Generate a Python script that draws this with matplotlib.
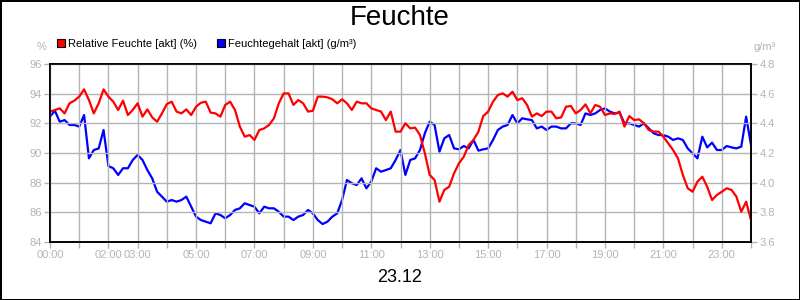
import numpy as np
import matplotlib
matplotlib.use("Agg")
import matplotlib.pyplot as plt
from matplotlib.patches import Patch

plt.rcParams['font.family'] = ['Liberation Sans', 'DejaVu Sans']

title = "Feuchte"
date_label = "23.12"
series_names = ["Relative Feuchte [akt] (%)", "Feuchtegehalt [akt] (g/m³)"]
left_unit = "%"
right_unit = "g/m³"

# 10-minute samples from 00:00 to 24:00
rel_feuchte = [
    92.79, 92.90, 93.01, 92.67, 93.35, 93.53,
    93.80, 94.29, 93.57, 92.67, 93.35, 94.29,
    93.80, 93.46, 92.90, 93.53, 92.56, 92.90,
    93.35, 92.45, 92.94, 92.40, 92.11, 92.67,
    93.30, 93.46, 92.79, 92.67, 92.94, 92.56,
    93.12, 93.39, 93.46, 92.72, 92.67, 92.45,
    93.24, 93.46, 92.90, 91.78, 91.10, 91.21,
    90.88, 91.55, 91.66, 91.89, 92.34, 93.35,
    94.02, 94.02, 93.24, 93.57, 93.35, 92.79,
    92.85, 93.80, 93.80, 93.75, 93.62, 93.35,
    93.62, 93.35, 92.90, 93.46, 93.35, 93.35,
    93.01, 92.90, 92.79, 92.22, 92.79, 91.44,
    91.44, 92.00, 91.66, 91.71, 91.21, 89.98,
    88.52, 88.18, 86.72, 87.51, 87.73, 88.63,
    89.30, 89.75, 90.54, 90.88, 91.44, 92.49,
    92.79, 93.46, 93.91, 94.02, 93.80, 94.13,
    93.57, 93.69, 93.24, 92.45, 92.67, 92.49,
    92.79, 92.79, 92.34, 92.40, 93.12, 93.17,
    92.67, 92.90, 93.28, 92.67, 93.24, 93.12,
    92.56, 92.67, 92.63, 92.79, 91.78, 92.49,
    92.22, 92.27, 92.00, 91.55, 91.44, 91.44,
    91.10, 90.65, 90.20, 89.64, 88.52, 87.62,
    87.39, 88.07, 88.40, 87.73, 86.83, 87.17,
    87.39, 87.62, 87.51, 87.06, 86.04, 86.72,
    85.48,
]

feuchtegehalt = [
    4.445, 4.485, 4.411, 4.422, 4.389, 4.389,
    4.378, 4.456, 4.164, 4.220, 4.231, 4.355,
    4.112, 4.097, 4.052, 4.097, 4.097, 4.153,
    4.187, 4.153, 4.085, 4.029, 3.939, 3.906,
    3.872, 3.883, 3.872, 3.883, 3.906, 3.838,
    3.771, 3.748, 3.737, 3.726, 3.793, 3.782,
    3.760, 3.782, 3.816, 3.827, 3.861, 3.849,
    3.838, 3.793, 3.838, 3.827, 3.827, 3.804,
    3.771, 3.771, 3.748, 3.771, 3.782, 3.816,
    3.793, 3.748, 3.721, 3.737, 3.771, 3.793,
    3.883, 4.018, 3.996, 3.984, 4.029, 3.962,
    4.007, 4.097, 4.074, 4.085, 4.097, 4.153,
    4.220, 4.052, 4.153, 4.164, 4.220, 4.333,
    4.411, 4.389, 4.209, 4.299, 4.321, 4.231,
    4.225, 4.247, 4.231, 4.288, 4.216, 4.225,
    4.231, 4.288, 4.355, 4.378, 4.389, 4.456,
    4.400, 4.434, 4.427, 4.422, 4.366, 4.378,
    4.355, 4.378, 4.378, 4.366, 4.366, 4.400,
    4.400, 4.389, 4.467, 4.456, 4.467, 4.490,
    4.501, 4.479, 4.467, 4.472, 4.400, 4.400,
    4.389, 4.378, 4.400, 4.366, 4.333, 4.321,
    4.321, 4.310, 4.288, 4.299, 4.288, 4.231,
    4.198, 4.164, 4.310, 4.238, 4.270, 4.220,
    4.220, 4.247, 4.238, 4.231, 4.243, 4.445,
    4.254,
]

hour_ticks = list(range(0, 25))
hour_labels = ["00:00", "", "02:00", "03:00", "", "05:00", "", "07:00", "", "09:00", "",
               "11:00", "", "13:00", "", "15:00", "", "17:00", "", "19:00", "", "21:00",
               "", "23:00", ""]
left_ticks = [84, 86, 88, 90, 92, 94, 96]
right_ticks = [3.6, 3.8, 4.0, 4.2, 4.4, 4.6, 4.8]

t_rel = np.arange(len(rel_feuchte)) / 6.0
t_abs = np.arange(len(feuchtegehalt)) / 6.0

GRAY = "#b4b4b4"
TXT = "#b4b4b4"

fig = plt.figure(figsize=(8, 3), dpi=100, facecolor="white",
                 edgecolor="black", linewidth=2)
ax = fig.add_axes([50/800, 1 - 242/300, 701/800, 178/300])
ax2 = ax.twinx()

ax.set_xlim(0, 24)
ax.set_ylim(84, 96)
ax2.set_ylim(3.6, 4.8)

ax.set_xticks(hour_ticks)
ax.set_xticklabels(hour_labels)
ax.set_yticks(left_ticks)
ax.set_yticklabels([str(v) for v in left_ticks])
ax2.set_yticks(right_ticks)
ax2.set_yticklabels([f"{v:.1f}" for v in right_ticks])

ax.grid(True, color=GRAY, linewidth=1.0)
ax.set_axisbelow(True)

for a in (ax, ax2):
    a.tick_params(axis="both", colors=GRAY, labelcolor=TXT, labelsize=8,
                  length=4, width=1, pad=2)
    for s in a.spines.values():
        s.set_color("black")
        s.set_linewidth(1.2)

l2, = ax2.plot(t_abs, feuchtegehalt, color="#0000ff", linewidth=1.6)
l1, = ax.plot(t_rel, rel_feuchte, color="#ff0000", linewidth=1.6)
ax.set_zorder(ax2.get_zorder() + 1)
ax.patch.set_visible(False)

fig.text(0.5, 1 - 18/300, title, ha="center", va="center", fontsize=20, color="black")
fig.text(0.5, 1 - 277/300, date_label, ha="center", va="center", fontsize=13, color="black")
fig.text(42/800, 1 - 47/300, left_unit, ha="center", va="center", fontsize=8, color=TXT)
fig.text(765/800, 1 - 47/300, right_unit, ha="center", va="center", fontsize=8, color=TXT)

handles = [Patch(facecolor="#ff0000", edgecolor="black", linewidth=0.8),
           Patch(facecolor="#0000ff", edgecolor="black", linewidth=0.8)]
fig.legend(handles, series_names, loc="center left",
           bbox_to_anchor=(57/800, 1 - 44/300), ncol=2, frameon=False,
           fontsize=8, handlelength=0.7, handleheight=0.7, handletextpad=0.3,
           columnspacing=1.8, borderaxespad=0, borderpad=0)

fig.savefig("out.png", dpi=100, facecolor="white", edgecolor="black")
